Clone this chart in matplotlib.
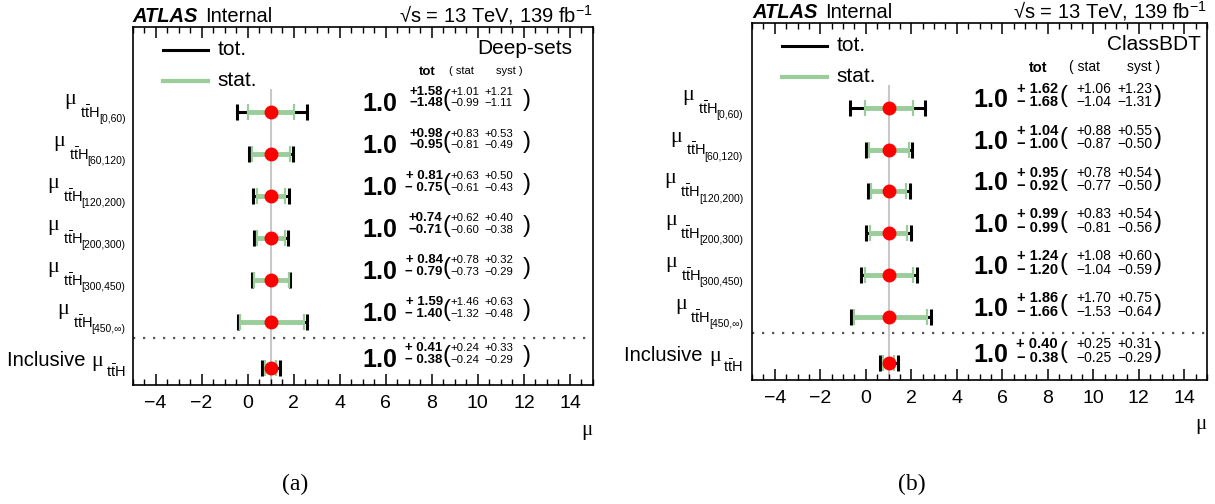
import numpy as np
import matplotlib
matplotlib.use("Agg")
from matplotlib import pyplot as plt
from matplotlib.ticker import MultipleLocator
from matplotlib.transforms import blended_transform_factory, IdentityTransform

plt.rcParams['font.family'] = ['Liberation Sans', 'DejaVu Sans']
plt.rcParams['mathtext.fontset'] = 'custom'
plt.rcParams['mathtext.rm'] = 'Liberation Sans'
plt.rcParams['mathtext.it'] = 'Liberation Serif'
plt.rcParams['mathtext.bf'] = 'Liberation Sans:bold'

# data
bins = ['[0,60)', '[60,120)', '[120,200)', '[200,300)', '[300,450)', '[450,\u221e)']
mu = [1.0, 1.0, 1.0, 1.0, 1.0, 1.0, 1.0]

# (a) Deep-sets
ds_tot_up = [1.58, 0.98, 0.81, 0.74, 0.84, 1.59, 0.41]
ds_tot_dn = [1.48, 0.95, 0.75, 0.71, 0.79, 1.40, 0.38]
ds_stat_up = [1.01, 0.83, 0.63, 0.62, 0.78, 1.46, 0.24]
ds_stat_dn = [0.99, 0.81, 0.61, 0.60, 0.73, 1.32, 0.24]
ds_syst_up = [1.21, 0.53, 0.50, 0.40, 0.32, 0.63, 0.33]
ds_syst_dn = [1.11, 0.49, 0.43, 0.38, 0.29, 0.48, 0.29]

# (b) ClassBDT
bdt_tot_up = [1.62, 1.04, 0.95, 0.99, 1.24, 1.86, 0.40]
bdt_tot_dn = [1.68, 1.00, 0.92, 0.99, 1.20, 1.66, 0.38]
bdt_stat_up = [1.06, 0.88, 0.78, 0.83, 1.08, 1.70, 0.25]
bdt_stat_dn = [1.04, 0.87, 0.77, 0.81, 1.04, 1.53, 0.25]
bdt_syst_up = [1.23, 0.55, 0.54, 0.54, 0.60, 0.75, 0.31]
bdt_syst_dn = [1.31, 0.50, 0.50, 0.56, 0.59, 0.64, 0.29]

GREEN = '#9acd9a'
W, H = 1215, 504
TTH = r'$\mathrm{t\bar{t}H}$'


def fmt(v, sign, spaced):
    s = '+' if sign > 0 else '\u2212'
    return (s + ' ' if spaced else s) + '%.2f' % v


def chain(ax, renderer, x_px, yrow, pieces):
    # place texts right to left, each piece = (text, size, family, dy, gap)
    tr = blended_transform_factory(IdentityTransform(), ax.transData)
    x = x_px
    for txt, size, fam, dy, gap in pieces:
        t = ax.text(x - gap, yrow + dy, txt, fontsize=size, family=fam,
                    ha='right', va='baseline', transform=tr)
        x = t.get_window_extent(renderer).x0


def draw_panel(ax, tag, tot_up, tot_dn, stat_up, stat_dn, syst_up, syst_dn, cfg):
    n = len(tot_up)
    y = np.array(list(range(n - 1)) + [n - 1 + 0.1])

    ax.plot([1, 1], [-0.52, 6.6], color='#c8c8c8', lw=1.5, zorder=1)
    ax.axhline(5.38, color='#555555', ls=(0, (1, 3.5)), lw=1.6, zorder=1)

    ax.errorbar(mu, y, xerr=[tot_dn, tot_up], fmt='none', ecolor='black',
                elinewidth=2.2, capsize=5.5, capthick=2.2, zorder=2)
    ax.errorbar(mu, y, xerr=[stat_dn, stat_up], fmt='none', ecolor=GREEN,
                elinewidth=3.5, capsize=5.5, capthick=1.6, zorder=3)
    ax.plot(mu, y, 'o', color='red', ms=9, zorder=4)

    # legend
    ax.plot([-3.66, -1.7], [-1.48, -1.48], color='black', lw=2.2)
    ax.plot([-3.66, -1.7], [-0.74, -0.74], color=GREEN, lw=3.0)
    ax.text(-1.3, -1.48, 'tot.', fontsize=15, va='center')
    ax.text(-1.3, -0.74, 'stat.', fontsize=15, va='center')
    ax.text(cfg['tagx'], -1.5, tag, fontsize=15, ha='right', va='center')

    # column header
    ax.text(cfg['tot'], -0.94, 'tot', fontsize=cfg['fb'], fontweight='bold',
            ha='center', va='center')
    ax.text(cfg['hstat'], -0.97, '( stat', fontsize=cfg['fh'], ha='left', va='center')
    ax.text(cfg['hsyst'], -0.97, 'syst )', fontsize=cfg['fh'], ha='left', va='center')

    up, dn = cfg['updy'], cfg['dndy']
    for i in range(n):
        yc = y[i]
        ax.text(cfg['one'], yc - 0.19, '1.0', fontsize=18, fontweight='bold',
                ha='right', va='center')
        sp = cfg['spaced'][i]
        ax.text(cfg['totx'], yc + up, fmt(tot_up[i], 1, sp), fontsize=cfg['fb'],
                fontweight='bold', ha='right', va='center')
        ax.text(cfg['totx'], yc + dn, fmt(tot_dn[i], -1, sp), fontsize=cfg['fb'],
                fontweight='bold', ha='right', va='center')
        ax.text(cfg['lp'], yc - 0.28, '(', fontsize=17, ha='center', va='center')
        ax.text(cfg['stat'], yc + up, fmt(stat_up[i], 1, False), fontsize=cfg['fs'],
                ha='center', va='center')
        ax.text(cfg['stat'], yc + dn, fmt(stat_dn[i], -1, False), fontsize=cfg['fs'],
                ha='center', va='center')
        ax.text(cfg['syst'], yc + up, fmt(syst_up[i], 1, False), fontsize=cfg['fs'],
                ha='center', va='center')
        ax.text(cfg['syst'], yc + dn, fmt(syst_dn[i], -1, False), fontsize=cfg['fs'],
                ha='center', va='center')
        ax.text(cfg['rp'], yc - 0.28, ')', fontsize=17, ha='center', va='center')

    ax.set_xlim(-5, 15)
    ax.set_ylim(6.5, -2.02)
    ax.set_yticks([])
    ax.set_xticks(range(-4, 15, 2))
    ax.xaxis.set_minor_locator(MultipleLocator(0.5))
    ax.tick_params(axis='x', which='both', direction='in', top=True, bottom=True,
                   labelsize=14, pad=7)
    ax.tick_params(axis='x', which='major', length=8, width=1.1)
    ax.tick_params(axis='x', which='minor', length=4, width=1.0)
    for s in ax.spines.values():
        s.set_linewidth(1.2)
    return y


fig = plt.figure(figsize=(W / 100, H / 100), dpi=100)
renderer = fig.canvas.get_renderer()

boxes = [(132.5, 27, 593, 385), (752, 23, 1207, 380)]
cfgs = [
    dict(tagx=14.1, one=6.5, totx=8.47, lp=8.62, stat=9.42, syst=10.9, rp=12.12,
         tot=7.82, hstat=8.75, hsyst=10.8, fs=8.2, fh=8, fb=9.5, updy=-0.48, dndy=-0.2,
         lgap=7, spaced=[False, False, True, False, True, True, True]),
    dict(tagx=14.75, one=6.25, totx=8.45, lp=8.71, stat=10.03, syst=11.81, rp=12.82,
         tot=7.57, hstat=8.95, hsyst=11.5, fs=10, fh=10, fb=10.5, updy=-0.45, dndy=-0.13,
         lgap=9, spaced=[True] * 7),
]
panels = [
    ('Deep-sets', ds_tot_up, ds_tot_dn, ds_stat_up, ds_stat_dn, ds_syst_up, ds_syst_dn),
    ('ClassBDT', bdt_tot_up, bdt_tot_dn, bdt_stat_up, bdt_stat_dn, bdt_syst_up, bdt_syst_dn),
]
letters = ['(a)', '(b)']

for k, (x0, y0, x1, y1) in enumerate(boxes):
    ax = fig.add_axes([x0 / W, 1 - y1 / H, (x1 - x0) / W, (y1 - y0) / H])
    yrows = draw_panel(ax, *panels[k], cfgs[k])

    # row labels: mu, ttH, bin as separate pieces
    xr = x0 - cfgs[k]['lgap']
    for i, b in enumerate(bins):
        chain(ax, renderer, xr, yrows[i], [
            (b, 7.5, 'Liberation Sans', 0.24, 0),
            (TTH, 10.5, 'Liberation Sans', 0.14, -1),
            (r'$\mu$', 16, 'Liberation Serif', -0.19, 3),
        ])
    chain(ax, renderer, xr, yrows[-1], [
        (TTH, 10.5, 'Liberation Sans', 0.22, 0),
        (r'$\mu$', 16, 'Liberation Serif', -0.05, 2),
        ('Inclusive ', 14.5, 'Liberation Sans', -0.05, 0),
    ])

    # ATLAS label
    yb = 1 - (y0 - 5) / H
    fig.text(x0 / W, yb, 'ATLAS', fontsize=14.5, fontweight='bold',
             style='italic', ha='left', va='baseline')
    fig.text((x0 + 73) / W, yb, 'Internal', fontsize=14.5, ha='left', va='baseline')
    fig.text(x1 / W, yb, '\u221as = 13 TeV, 139 fb$^{\\mathrm{-1}}$', fontsize=14.5,
             ha='right', va='baseline')
    fig.text((x1 - 6) / W, 1 - (y1 + 47) / H, r'$\mu$', fontsize=15,
             ha='center', va='center')
    fig.text(((x0 + x1) / 2 - 68) / W, 1 - 484 / H, letters[k], fontsize=17,
             family='Liberation Serif', ha='center', va='center')

fig.savefig('out.png', dpi=100)
